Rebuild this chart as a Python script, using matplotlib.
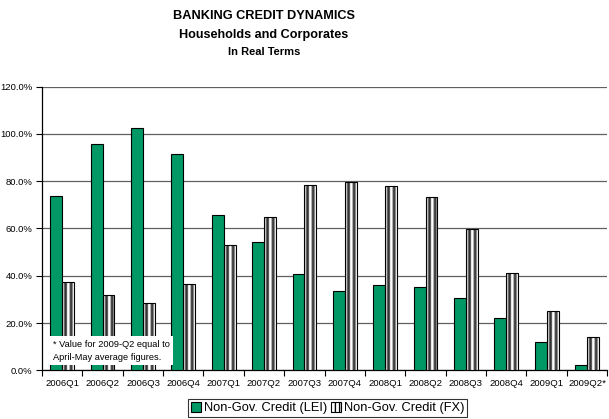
import numpy as np
import matplotlib
matplotlib.use("Agg")
import matplotlib.pyplot as plt
from matplotlib.patches import Patch
from matplotlib.ticker import FuncFormatter, MultipleLocator

plt.rcParams['font.family'] = ['Liberation Sans', 'DejaVu Sans']

quarters = ["2006Q1", "2006Q2", "2006Q3", "2006Q4", "2007Q1", "2007Q2", "2007Q3",
            "2007Q4", "2008Q1", "2008Q2", "2008Q3", "2008Q4", "2009Q1", "2009Q2*"]
credit_lei = [73.8, 95.9, 102.5, 91.5, 65.5, 54.1, 40.7, 33.5, 36.3, 35.2, 30.4, 22.2, 11.8, 2.2]
credit_fx = [37.4, 31.9, 28.3, 36.5, 52.9, 64.9, 78.2, 79.7, 77.9, 73.5, 59.8, 41.0, 24.9, 13.9]

GREEN = "#009966"

fig = plt.figure(figsize=(6.09, 4.19), dpi=100)
ax = fig.add_axes([0.069, 0.1162, 0.928, 0.677])

x = np.arange(len(quarters))
w = 0.295

ax.bar(x - w / 2, credit_lei, width=w, color=GREEN, edgecolor="black", linewidth=0.8, zorder=3)
fx_bars = ax.bar(x + w / 2, credit_fx, width=w, facecolor="none", edgecolor="black",
                 linewidth=0.8, zorder=4)

# vertical shaded stripes inside each FX bar
stripe = np.array([[1.0, 0.8, 0.4, 0.2, 0.35, 0.9, 1.0, 0.7, 0.3, 0.25, 0.55, 0.95]])
for b in fx_bars:
    x0, y0 = b.get_x(), b.get_y()
    im = ax.imshow(stripe, cmap="gray", vmin=0, vmax=1, aspect="auto",
                   extent=(x0, x0 + b.get_width(), y0, y0 + b.get_height()),
                   interpolation="bilinear", zorder=3.5)
    im.set_clip_path(b)

ax.set_xlim(-0.5, len(quarters) - 0.5)
ax.set_ylim(0, 120)
ax.yaxis.set_major_locator(MultipleLocator(20))
ax.yaxis.set_major_formatter(FuncFormatter(lambda v, p: f"{v:.1f}%"))
ax.set_xticks(x)
ax.set_xticklabels(quarters, fontsize=6.8)
ax.set_xticks(np.arange(-0.5, len(quarters), 1), minor=True)
ax.tick_params(axis="x", which="major", length=0, pad=6)
ax.tick_params(axis="x", which="minor", length=4, width=0.8, direction="out")
ax.tick_params(axis="y", labelsize=6.8, length=4, width=0.8, direction="out", pad=3)

ax.grid(axis="y", color="#606060", linewidth=0.9, zorder=1)
ax.set_axisbelow(True)
for s in ("top", "right"):
    ax.spines[s].set_visible(False)
for s in ("left", "bottom"):
    ax.spines[s].set_color("black")
    ax.spines[s].set_linewidth(0.9)

ax.text(-0.23, 8.3, "* Value for 2009-Q2 equal to\nApril-May average figures.",
        fontsize=6.7, va="center", ha="left", linespacing=1.6, zorder=6,
        bbox=dict(facecolor="white", edgecolor="none", pad=2.5))

fig.text(264 / 609, 1 - 16 / 419, "BANKING CREDIT DYNAMICS", ha="center", va="center",
         fontsize=9.2, fontweight="bold")
fig.text(264 / 609, 1 - 35 / 419, "Households and Corporates", ha="center", va="center",
         fontsize=9.1, fontweight="bold")
fig.text(264 / 609, 1 - 52 / 419, "In Real Terms", ha="center", va="center",
         fontsize=8, fontweight="bold")

handles = [Patch(facecolor=GREEN, edgecolor="black", linewidth=0.8),
           Patch(facecolor="white", edgecolor="black", hatch="||||", linewidth=0.8)]
leg = fig.legend(handles, ["Non-Gov. Credit (LEI)", "Non-Gov. Credit (FX)"],
                 loc="center", bbox_to_anchor=(0.538, 0.026), ncol=2, fontsize=9.3,
                 frameon=True, fancybox=False, edgecolor="black", handlelength=0.8,
                 handleheight=0.8, handletextpad=0.2, columnspacing=0.3,
                 borderpad=0.2, borderaxespad=0)
leg.get_frame().set_linewidth(0.8)

fig.savefig("out.png", dpi=100)
